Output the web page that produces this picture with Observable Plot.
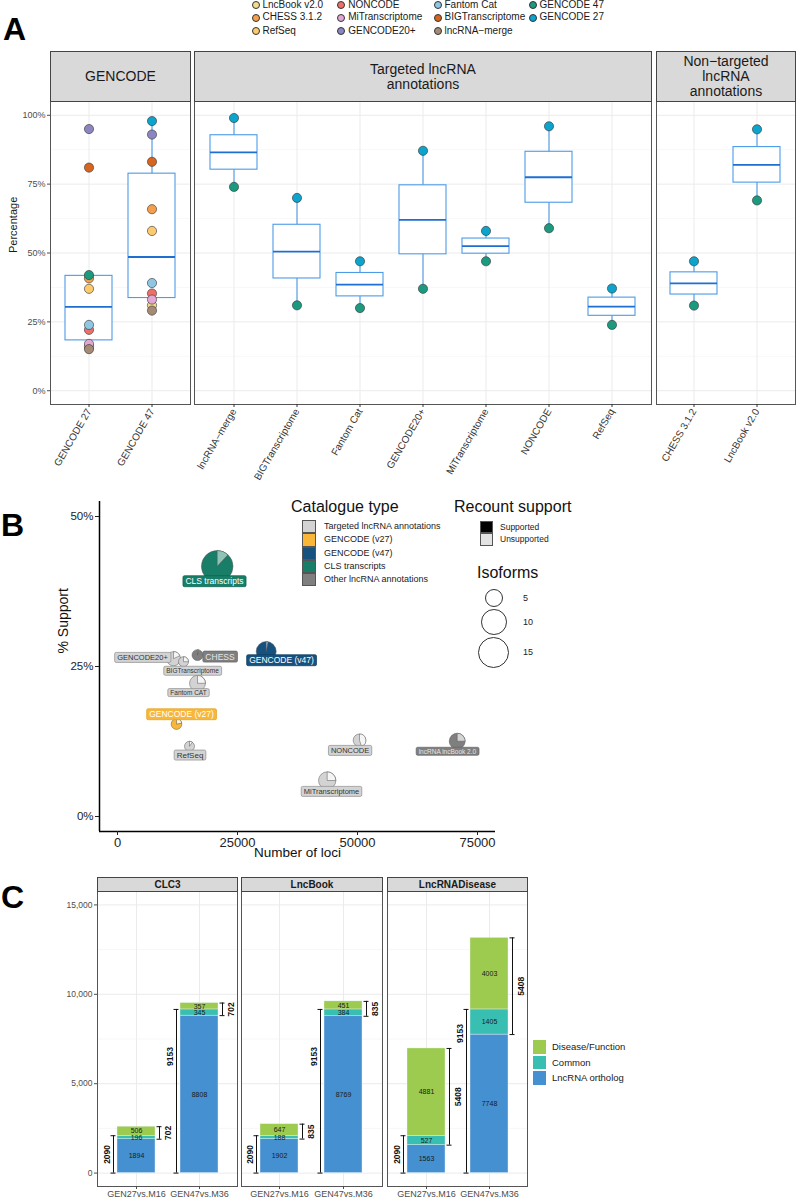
<!DOCTYPE html>
<html><head><meta charset="utf-8">
<script src="https://cdn.jsdelivr.net/npm/d3@7"></script>
<script src="https://cdn.jsdelivr.net/npm/@observablehq/plot@0.6"></script>
<style>
body{margin:0;background:#fff;font-family:"Liberation Sans",Arial,sans-serif;}
#fig{position:relative;width:796px;height:1200px;overflow:hidden;background:#fff;}
#fig > *{position:absolute;}
.strip{background:#D9D9D9;border:1px solid #444;box-sizing:border-box;display:flex;align-items:center;justify-content:center;text-align:center;color:#1A1A1A;}
.letter{font-weight:bold;font-size:32px;line-height:32px;color:#000;}
.lg{font-size:10px;line-height:12px;color:#1A1A1A;white-space:nowrap;}
</style></head><body><div id="fig"></div>
<script>
// ================= DATA =================
// ---- Panel A
const gencodeCols = ["GENCODE 27", "GENCODE 47"];
const targetedCols = ["lncRNA−merge", "BIGTranscriptome", "Fantom Cat", "GENCODE20+", "MiTranscriptome", "NONCODE", "RefSeq"];
const nonTargetedCols = ["CHESS 3.1.2", "LncBook v2.0"];
const annotsInGencode27 = ["LncBook v2.0", "CHESS 3.1.2", "NONCODE", "Fantom Cat", "MiTranscriptome", "lncRNA−merge", "GENCODE 47", "RefSeq", "BIGTranscriptome", "GENCODE20+"];
const valuesInGencode27 = [0.16, 0.408, 0.221, 0.239, 0.17, 0.151, 0.42, 0.37, 0.81, 0.95];
const annotsInGencode47 = ["LncBook v2.0", "CHESS 3.1.2", "NONCODE", "Fantom Cat", "MiTranscriptome", "lncRNA−merge", "RefSeq", "BIGTranscriptome", "GENCODE20+", "GENCODE 27"];
const valuesInGencode47 = [0.31, 0.659, 0.353, 0.391, 0.331, 0.291, 0.58, 0.831, 0.93, 0.979];
const otherCols = [...targetedCols, ...nonTargetedCols];
const gencode27Values = [0.99, 0.70, 0.47, 0.871, 0.58, 0.96, 0.371, 0.47, 0.949];
const gencode47Values = [0.74, 0.31, 0.30, 0.37, 0.47, 0.59, 0.239, 0.309, 0.691];
const legendOrder = ["LncBook v2.0", "CHESS 3.1.2", "RefSeq", "NONCODE", "MiTranscriptome", "GENCODE20+", "Fantom Cat", "BIGTranscriptome", "lncRNA−merge", "GENCODE 47", "GENCODE 27"];
const annotColors = ["#F3DC8E", "#F59F4D", "#FDCB6E", "#EE6F69", "#E2A7D2", "#8B86C1", "#8FC6E3", "#D8651E", "#A58B76", "#1C9A7F", "#0CA3CC"];
const pctTicks = [0, 0.25, 0.5, 0.75, 1];
const pctMinor = [0.125, 0.375, 0.625, 0.875];

// ---- Panel B
const catalogueTypes = ["Targeted lncRNA annotations", "GENCODE (v27)", "GENCODE (v47)", "CLS transcripts", "Other lncRNA annotations"];
const catalogueColors = ["#D3D3D3", "#F8B739", "#17527F", "#187E68", "#7F7F7F"];
const unsupportedColors = ["#F5F5F5", "#FFF4DE", "#B3C8DA", "#8FC3B6", "#D4D4D4"];
const pieNames = ["CLS transcripts", "GENCODE (v47)", "CHESS", "GENCODE20+", "BIGTranscriptome", "Fantom CAT", "GENCODE (v27)", "RefSeq", "NONCODE", "lncRNA lncBook 2.0", "MiTranscriptome"];
const pieTypes = ["CLS transcripts", "GENCODE (v47)", "Other lncRNA annotations", "Targeted lncRNA annotations", "Targeted lncRNA annotations", "Targeted lncRNA annotations", "GENCODE (v27)", "Targeted lncRNA annotations", "Targeted lncRNA annotations", "Other lncRNA annotations", "Targeted lncRNA annotations"];
const lociCount = [20771, 30979, 16667, 11667, 13750, 16667, 12292, 15000, 50417, 70771, 43687];
const supportPct = [0.417, 0.275, 0.269, 0.263, 0.258, 0.222, 0.154, 0.117, 0.127, 0.1255, 0.06];
const isoformCount = [15, 6, 1.8, 3, 1.5, 3.8, 1.7, 1.5, 2.4, 3.8, 4.5];
const unsupportedShare = [0.12, 0.03, 0.03, 0.18, 0.25, 0.25, 0.22, 0.1, 0.45, 0.25, 0.25];
const labelLoci = [20208, 34167, 21354, 5208, 15625, 14792, 13333, 15104, 48458, 68729, 44583];
const labelSupport = [0.3917, 0.26, 0.266, 0.265, 0.243, 0.2058, 0.17, 0.1025, 0.11, 0.108, 0.0417];
const lociTicks = [0, 25000, 50000, 75000];
const supportTicks = [0, 0.25, 0.5];
const isoformLegend = [5, 10, 15];

// ---- Panel C
const facetsC = ["CLC3", "LncBook", "LncRNADisease"];
const comparisons = ["GEN27vs.M16", "GEN47vs.M36"];
const partsC = ["LncRNA ortholog", "Common", "Disease/Function"];
const partColors = ["#4590D1", "#39BFB1", "#9CCB4F"];
const orthologC = [1894, 8808, 1902, 8769, 1563, 7748];
const commonC = [196, 345, 188, 384, 527, 1405];
const diseaseC = [506, 357, 647, 451, 4881, 4003];
const orthologLabelAt = [1045, 6521, 1045, 6521, 1045, 7808];
const countTicks = [0, 5000, 10000, 15000];
const countMinor = [2500, 7500, 12500];

// ================= HELPERS =================
const FONT = '"Liberation Sans", Arial, sans-serif';
const fig = document.getElementById("fig");
function add(el, left, top) { el.style.left = left + "px"; el.style.top = top + "px"; fig.appendChild(el); return el; }
function div(html, cls, style = {}) { const d = document.createElement("div"); if (cls) d.className = cls; d.innerHTML = html; Object.assign(d.style, style); return d; }

// ================= PANEL A =================
const pointsA = [];
annotsInGencode27.forEach((a, i) => pointsA.push({col: "GENCODE 27", annot: a, value: valuesInGencode27[i]}));
annotsInGencode47.forEach((a, i) => pointsA.push({col: "GENCODE 47", annot: a, value: valuesInGencode47[i]}));
otherCols.forEach((c, i) => {
  pointsA.push({col: c, annot: "GENCODE 47", value: gencode47Values[i]});
  pointsA.push({col: c, annot: "GENCODE 27", value: gencode27Values[i]});
});
function boxStats(col) {
  const v = pointsA.filter(d => d.col === col).map(d => d.value).sort(d3.ascending);
  const q1 = d3.quantileSorted(v, 0.25), med = d3.quantileSorted(v, 0.5), q3 = d3.quantileSorted(v, 0.75);
  const iqr = q3 - q1;
  return {col, q1, med, q3, lo: d3.min(v.filter(x => x >= q1 - 1.5 * iqr)), hi: d3.max(v.filter(x => x <= q3 + 1.5 * iqr))};
}
const BOX = "#4C9BE8", MED = "#1F6FD1";
function chartA(cols, withY) {
  const pts = pointsA.filter(d => cols.includes(d.col));
  const stats = cols.map(boxStats);
  const width = withY ? 191 : (cols.length === 7 ? 459 : 141);
  return Plot.plot({
    width, height: 1 + 303 + 90, marginTop: 1, marginBottom: 90, marginLeft: withY ? 50 : 1, marginRight: 1,
    style: {fontFamily: FONT, background: "transparent", overflow: "visible"},
    x: {type: "band", domain: cols, paddingInner: 0.25, paddingOuter: 0.225, axis: null},
    y: {domain: [-0.05, 1.05], axis: null},
    color: {type: "ordinal", domain: legendOrder, range: annotColors},
    marks: [
      Plot.gridY(pctMinor, {stroke: "#F3F3F3", strokeOpacity: 1, strokeWidth: 0.7}),
      Plot.gridY(pctTicks, {stroke: "#EBEBEB", strokeOpacity: 1, strokeWidth: 1}),
      Plot.gridX(cols, {stroke: "#EBEBEB", strokeOpacity: 1, strokeWidth: 1}),
      Plot.ruleX(stats, {x: "col", y1: "lo", y2: "hi", stroke: BOX, strokeWidth: 1.1}),
      Plot.barY(stats, {x: "col", y1: "q1", y2: "q3", fill: "white", stroke: BOX, strokeWidth: 1.1}),
      Plot.tickY(stats, {x: "col", y: "med", stroke: MED, strokeWidth: 1.8}),
      Plot.dot(pts, {x: "col", y: "value", fill: "annot", r: 4.6, stroke: "#333", strokeWidth: 0.6}),
      Plot.frame({stroke: "#555", strokeWidth: 1}),
      Plot.axisX({tickRotate: -60, tickSize: 3, tickPadding: 2, fontSize: 10, color: "#333", label: null}),
      ...(withY ? [
        Plot.axisY(pctTicks, {tickFormat: d3.format(".0%"), tickSize: 3, tickPadding: 2, fontSize: 9, color: "#4D4D4D", label: null}),
        Plot.text(["Percentage"], {frameAnchor: "left", dx: -37, rotate: -90, fontSize: 11, fill: "#1A1A1A"})
      ] : [])
    ]
  });
}
add(chartA(gencodeCols, true), 0, 100);
add(chartA(targetedCols, false), 193, 100);
add(chartA(nonTargetedCols, false), 655, 100);
add(div("GENCODE", "strip", {fontSize: "14px", lineHeight: "15px", width: "141px", height: "51px"}), 50, 51);
add(div("Targeted lncRNA<br>annotations", "strip", {fontSize: "14px", lineHeight: "15px", width: "458px", height: "51px"}), 194, 51);
add(div("Non−targeted<br>lncRNA<br>annotations", "strip", {fontSize: "14px", lineHeight: "15px", width: "140px", height: "51px"}), 656, 51);
// legend A (filled column-wise, 3 rows)
legendOrder.forEach((name, i) => {
  const col = Math.floor(i / 3), row = i % 3;
  const cx = [255, 340.7, 437, 532][col], cy = [4.5, 17.3, 30.5][row];
  add(div("", null, {width: "6px", height: "6px", borderRadius: "50%", background: annotColors[i], border: "0.7px solid #333"}), cx - 3.5, cy - 3.5);
  add(div(name, "lg"), cx + 7.5, cy - 6);
});
add(div("A", "letter"), 3, 13);

// ================= PANEL B =================
const pies = pieNames.map((name, i) => ({
  name, type: pieTypes[i], loci: lociCount[i], support: supportPct[i], iso: isoformCount[i],
  unsup: unsupportedShare[i], lx: labelLoci[i], ly: labelSupport[i]
}));
const labelFont = {"CLS transcripts": 8.5, "GENCODE (v47)": 8.5, "CHESS": 8.5, "GENCODE20+": 7.5, "BIGTranscriptome": 6.5, "Fantom CAT": 6.5, "GENCODE (v27)": 8.5, "RefSeq": 8, "NONCODE": 7.5, "lncRNA lncBook 2.0": 6.5, "MiTranscriptome": 7.5};
const labelText = ["#333", "#FFFFFF", "#FFFFFF", "#FFFFFF", "#E6E6E6"];
const labelStroke = ["#8C8C8C", "#E0A22A", "#0F3B5E", "#10604F", "#666666"];
function wedge(frac) {
  return {draw(ctx, size) {
    const r = Math.sqrt(size / Math.PI), a0 = -Math.PI / 2, a1 = a0 + 2 * Math.PI * frac;
    ctx.moveTo(0, 0); ctx.lineTo(0, -r); ctx.arc(0, 0, r, a0, a1); ctx.closePath();
  }};
}
const chartB = Plot.plot({
  width: 500, height: 371, marginTop: 6, marginBottom: 35, marginLeft: 99, marginRight: 5,
  style: {fontFamily: FONT, background: "transparent", overflow: "visible"},
  x: {domain: [-3750, 78750], axis: null},
  y: {domain: [-0.025, 0.525], axis: null},
  r: {type: "sqrt", domain: [0, 15], range: [0, 15.8]},
  color: {type: "ordinal", domain: catalogueTypes, range: catalogueColors},
  marks: [
    Plot.ruleX([-3750], {stroke: "#000", strokeWidth: 1.5}),
    Plot.ruleY([-0.025], {stroke: "#000", strokeWidth: 1.5}),
    Plot.axisX(lociTicks, {tickSize: 4, tickPadding: 2, fontSize: 13, tickFormat: d3.format("d"), color: "#222", label: null}),
    Plot.axisY(supportTicks, {tickSize: 4, tickPadding: 2, fontSize: 11.5, tickFormat: d3.format(".0%"), color: "#222", label: null}),
    Plot.text(["Number of loci"], {frameAnchor: "bottom", dy: 25, fontSize: 13.5, fill: "#111"}),
    Plot.text(["% Support"], {frameAnchor: "left", dx: -36, dy: -13, rotate: -90, fontSize: 14, fill: "#111"}),
    Plot.dot(pies, {x: "loci", y: "support", r: "iso", fill: "type", stroke: "#555", strokeWidth: 0.5}),
    ...pies.map(p => Plot.dot([p], {x: "loci", y: "support", r: "iso", symbol: wedge(p.unsup),
      fill: unsupportedColors[catalogueTypes.indexOf(p.type)], stroke: "#555", strokeWidth: 0.5})),
    ...catalogueTypes.map((t, ti) => Plot.text(pies.filter(p => p.type === t), {
      x: "lx", y: "ly", text: "name", fontSize: d => labelFont[d.name], fill: labelText[ti]
    }))
  ]
});
add(chartB, 0, 495);
// label boxes behind each pie label (geom_label look)
Array.from(chartB.querySelectorAll("text")).forEach(txt => {
  const k = pieNames.indexOf(txt.textContent);
  if (k < 0) return;
  const ti = catalogueTypes.indexOf(pieTypes[k]);
  const bb = txt.getBBox();
  const rect = document.createElementNS("http://www.w3.org/2000/svg", "rect");
  rect.setAttribute("x", bb.x - 2.5); rect.setAttribute("y", bb.y - 0.5);
  rect.setAttribute("width", bb.width + 5); rect.setAttribute("height", bb.height + 1);
  rect.setAttribute("rx", 1.5);
  rect.setAttribute("fill", catalogueColors[ti]); rect.setAttribute("stroke", labelStroke[ti]); rect.setAttribute("stroke-width", 0.7);
  if (txt.getAttribute("transform")) rect.setAttribute("transform", txt.getAttribute("transform"));
  txt.parentNode.insertBefore(rect, txt);
});
// legends B
add(div("Catalogue type", null, {fontSize: "16px", lineHeight: "18px", color: "#111"}), 291, 498);
catalogueTypes.forEach((t, i) => {
  add(div("", null, {width: "14px", height: "13.3px", background: catalogueColors[i], border: "0.8px solid #555", boxSizing: "border-box"}), 302, 520 + 13.3 * i);
  add(div(t, null, {fontSize: "9px", lineHeight: "13.3px", color: "#222", whiteSpace: "nowrap"}), 324, 520 + 13.3 * i);
});
add(div("Recount support", null, {fontSize: "16px", lineHeight: "18px", color: "#111"}), 454, 498);
["Supported", "Unsupported"].forEach((t, i) => {
  add(div("", null, {width: "13px", height: "12.5px", background: i ? "#E3E3E3" : "#000", border: "0.8px solid #555", boxSizing: "border-box"}), 480, 520.5 + 12.5 * i);
  add(div(t, null, {fontSize: "8.5px", lineHeight: "12.5px", color: "#222", whiteSpace: "nowrap"}), 500, 520.5 + 12.5 * i);
});
add(div("Isoforms", null, {fontSize: "16px", lineHeight: "18px", color: "#111"}), 477, 564);
const rB = chartB.scale("r");
const isoCenters = [597.7, 621.7, 652.3];
isoformLegend.forEach((v, i) => {
  const r = rB.apply(v);
  add(div("", null, {width: (2 * r) + "px", height: (2 * r) + "px", borderRadius: "50%", border: "1px solid #333", boxSizing: "border-box"}), 493.7 - r, isoCenters[i] - r);
  add(div(String(v), null, {fontSize: "9px", lineHeight: "10px", color: "#222"}), 523, isoCenters[i] - 5);
});
add(div("B", "letter"), 1, 509);

// ================= PANEL C =================
function chartC(fi, withY) {
  const rows = [], brackets = [];
  comparisons.forEach((c, j) => {
    const k = fi * 2 + j;
    [orthologC[k], commonC[k], diseaseC[k]].forEach((n, p) => rows.push({comp: c, part: partsC[p], n}));
    const mid = orthologC[k] + commonC[k], top = mid + diseaseC[k];
    brackets.push({comp: c, base: orthologC[k], mid, top, gain: commonC[k] + diseaseC[k], at: orthologLabelAt[k]});
  });
  const width = withY ? 238 : (fi === 1 ? 143 : 142);
  const capOpts = {x: "comp", stroke: "#111", strokeWidth: 1, insetLeft: 16.5, insetRight: 16.5};
  return Plot.plot({
    width, height: 1 + 295 + 14, marginTop: 1, marginBottom: 14, marginLeft: withY ? 97 : 1, marginRight: 1,
    style: {fontFamily: FONT, background: "transparent", overflow: "visible"},
    x: {type: "band", domain: comparisons, paddingInner: 0.4, paddingOuter: 0.3, axis: null},
    y: {domain: [-750, 15750], axis: null},
    color: {type: "ordinal", domain: partsC, range: partColors},
    marks: [
      Plot.gridY(countMinor, {stroke: "#F3F3F3", strokeOpacity: 1, strokeWidth: 0.7}),
      Plot.gridY(countTicks, {stroke: "#EBEBEB", strokeOpacity: 1, strokeWidth: 1}),
      Plot.gridX(comparisons, {stroke: "#EBEBEB", strokeOpacity: 1, strokeWidth: 1}),
      Plot.barY(rows, {x: "comp", y: "n", fill: "part", stroke: "#EAF4FB", strokeWidth: 0.4}),
      Plot.text(rows, Plot.stackY({x: "comp", y: "n", text: d => String(d.n), fontSize: 7, fill: "#1A1A1A"})),
      Plot.ruleX(brackets, {x: "comp", y1: 0, y2: "mid", dx: -23, stroke: "#111"}),
      Plot.tickY(brackets, {...capOpts, y: 0, dx: -23}),
      Plot.tickY(brackets, {...capOpts, y: "mid", dx: -23}),
      Plot.text(brackets, {x: "comp", y: d => d.comp === comparisons[0] ? d.mid / 2 : d.at, text: d => String(d.mid), rotate: -90, dx: -29.5, fontSize: 8.5, fontWeight: "bold", fill: "#111"}),
      Plot.ruleX(brackets, {x: "comp", y1: "base", y2: "top", dx: 23, stroke: "#111"}),
      Plot.tickY(brackets, {...capOpts, y: "base", dx: 23}),
      Plot.tickY(brackets, {...capOpts, y: "top", dx: 23}),
      Plot.text(brackets, {x: "comp", y: d => (d.base + d.top) / 2, text: d => String(d.gain), rotate: -90, dx: 31.5, fontSize: 8.5, fontWeight: "bold", fill: "#111"}),
      Plot.frame({stroke: "#555", strokeWidth: 1}),
      Plot.axisX({tickSize: 3, tickPadding: 1, fontSize: 9, color: "#4D4D4D", label: null}),
      ...(withY ? [Plot.axisY(countTicks, {tickFormat: d3.format(","), tickSize: 3, tickPadding: 2, fontSize: 8.5, color: "#4D4D4D", label: null})] : [])
    ]
  });
}
add(chartC(0, true), 0, 890);
add(chartC(1, false), 240, 890);
add(chartC(2, false), 386, 890);
[[97, 141], [241, 142], [387, 141]].forEach(([l, w], i) => {
  add(div(facetsC[i], "strip", {fontSize: "10px", fontWeight: "bold", width: w + "px", height: "15px"}), l, 877);
});
// legend C (top to bottom: Disease/Function, Common, LncRNA ortholog)
[2, 1, 0].forEach((p, i) => {
  add(div("", null, {width: "15px", height: "15.5px", background: partColors[p], border: "0.6px solid #fff", boxSizing: "border-box"}), 532, 1039 + 15.7 * i);
  add(div(partsC[p], null, {fontSize: "9.5px", lineHeight: "15.7px", color: "#1A1A1A", whiteSpace: "nowrap"}), 552, 1039 + 15.7 * i);
});
add(div("C", "letter"), 1, 881);
</script></body></html>
